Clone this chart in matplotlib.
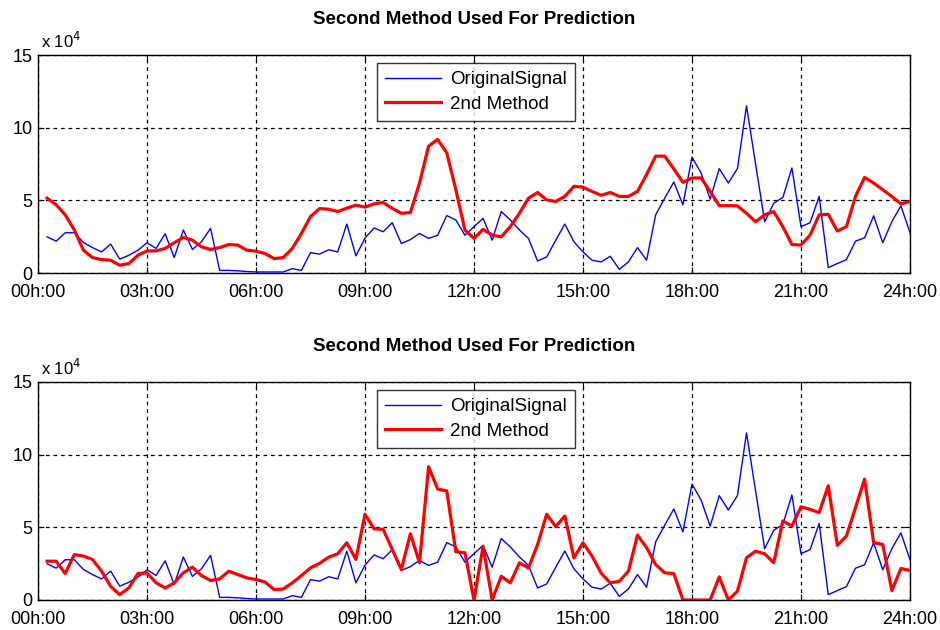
import matplotlib
matplotlib.use("Agg")
import matplotlib.pyplot as plt
import numpy as np

plt.rcParams['font.family'] = ['Liberation Sans', 'DejaVu Sans']

# time in hours (every 15 min)
hours = [0.25 * (i + 1) for i in range(96)]

original_signal = [
    2.49, 2.19, 2.77, 2.77, 2.10, 1.75, 1.45, 1.99, 0.95, 1.22, 1.57, 2.08,
    1.69, 2.70, 1.06, 2.96, 1.62, 2.15, 3.07, 0.18, 0.18, 0.15, 0.10, 0.07,
    0.07, 0.07, 0.07, 0.30, 0.18, 1.40, 1.30, 1.60, 1.45, 3.37, 1.18, 2.40,
    3.10, 2.84, 3.46, 2.03, 2.30, 2.72, 2.38, 2.60, 3.95, 3.65, 2.60, 3.19,
    3.76, 2.26, 4.23, 3.65, 2.96, 2.38, 0.83, 1.10, 2.26, 3.37, 2.15, 1.45,
    0.88, 0.76, 1.15, 0.25, 0.76, 1.75, 0.88, 4.00, 5.15, 6.26, 4.69, 7.97,
    6.88, 5.08, 7.18, 6.19, 7.18, 11.50, 7.50, 3.53, 4.80, 5.20, 7.23, 3.19,
    3.46, 5.27, 0.37, 0.65, 0.92, 2.19, 2.42, 3.93, 2.08, 3.53, 4.62, 2.77,
]

method2_top = [
    5.15, 4.70, 4.00, 2.96, 1.57, 1.06, 0.92, 0.88, 0.53, 0.65, 1.22, 1.52,
    1.52, 1.69, 2.08, 2.45, 2.26, 1.80, 1.62, 1.75, 1.96, 1.92, 1.57, 1.50,
    1.34, 0.99, 1.06, 1.69, 2.72, 3.88, 4.43, 4.39, 4.23, 4.46, 4.67, 4.53,
    4.76, 4.85, 4.45, 4.11, 4.16, 6.19, 8.73, 9.19, 8.27, 5.73, 2.96, 2.38,
    3.00, 2.61, 2.49, 3.19, 4.11, 5.15, 5.54, 5.03, 4.92, 5.27, 5.96, 5.91,
    5.61, 5.35, 5.54, 5.27, 5.27, 5.61, 6.77, 8.04, 8.04, 7.16, 6.24, 6.54,
    6.54, 5.61, 4.64, 4.64, 4.62, 4.11, 3.53, 4.00, 4.23, 3.19, 1.96, 1.92,
    2.61, 4.00, 4.04, 2.89, 3.19, 5.27, 6.58, 6.19, 5.73, 5.27, 4.76, 4.92,
]

method2_bottom = [
    2.67, 2.67, 1.82, 3.13, 3.02, 2.79, 1.98, 0.94, 0.37, 0.83, 1.82, 1.87,
    1.18, 0.83, 1.18, 1.87, 2.26, 1.68, 1.34, 1.45, 1.98, 1.75, 1.52, 1.41,
    1.24, 0.71, 0.76, 1.18, 1.68, 2.21, 2.52, 2.95, 3.18, 3.94, 2.79, 5.90,
    4.90, 4.86, 3.48, 2.10, 4.56, 2.56, 9.17, 7.63, 7.51, 3.32, 3.25, 0.00,
    3.70, 0.00, 1.64, 1.18, 2.56, 2.21, 3.82, 5.90, 5.05, 5.78, 2.90, 3.94,
    3.02, 1.85, 1.18, 1.29, 1.98, 4.47, 3.60, 2.44, 1.87, 1.82, 0.00, 0.00,
    0.00, 0.00, 1.59, 0.00, 0.60, 2.90, 3.36, 3.18, 2.56, 5.44, 5.09, 6.41,
    6.24, 6.01, 7.86, 3.76, 4.40, 6.36, 8.32, 3.94, 3.82, 0.65, 2.17, 2.03,
]

xtick_hours = [0, 3, 6, 9, 12, 15, 18, 21, 24]
xtick_labels = ["00h:00", "03h:00", "06h:00", "09h:00", "12h:00",
                "15h:00", "18h:00", "21h:00", "24h:00"]
ytick_values = [0, 5, 10, 15]
title_text = "Second Method Used For Prediction"
legend_labels = ["OriginalSignal", "2nd Method"]

fig = plt.figure(figsize=(9.4, 6.3), dpi=100)
fig.patch.set_facecolor('white')

axes_rects = [
    [38 / 940, 1 - 273 / 630, 872 / 940, 218 / 630],
    [38 / 940, 1 - 600 / 630, 872 / 940, 218 / 630],
]

for rect, red in zip(axes_rects, [method2_top, method2_bottom]):
    ax = fig.add_axes(rect)
    ax.plot(hours, original_signal, color=(0, 0, 1), lw=1.0, label=legend_labels[0], zorder=3)
    ax.plot(hours, red, color=(1, 0, 0), lw=2.3, label=legend_labels[1], zorder=4)
    ax.set_xlim(0, 24)
    ax.set_ylim(0, 15)
    ax.set_xticks(xtick_hours)
    ax.set_xticklabels(xtick_labels)
    ax.set_yticks(ytick_values)
    ax.tick_params(direction='in', length=4, labelsize=13, colors='black',
                   top=True, right=True)
    ax.tick_params(axis='x', pad=8)
    ax.tick_params(axis='y', pad=4)
    ax.grid(True, color='black', linestyle=(0, (3, 3)), linewidth=0.9)
    for s in ax.spines.values():
        s.set_color('black')
        s.set_linewidth(1.0)
    ax.set_title(title_text, fontsize=13.5, fontweight='bold', pad=22)
    ax.text(0.003, 1.02, r"x 10$^4$", transform=ax.transAxes, fontsize=12,
            ha='left', va='bottom')
    leg = ax.legend(loc='upper center', bbox_to_anchor=(0.502, 1.008), fontsize=13.5,
                    handlelength=3.0, frameon=True, fancybox=False,
                    borderpad=0.45, labelspacing=0.4, handletextpad=0.45)
    leg.get_frame().set_edgecolor('black')
    leg.get_frame().set_linewidth(1.0)
    leg.set_zorder(10)

fig.savefig("out.png", dpi=100, facecolor='white')
